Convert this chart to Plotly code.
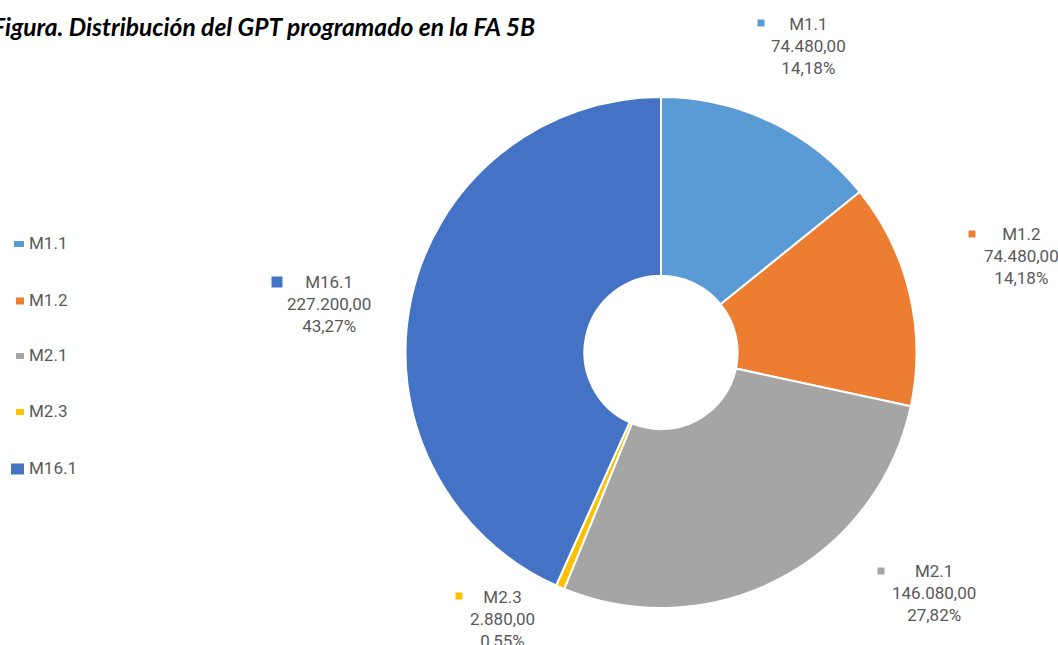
import plotly.graph_objects as go

# Programmed GPT by measure (FA 5B)
labels = ["M1.1", "M1.2", "M2.1", "M2.3", "M16.1"]
values = [74480.00, 74480.00, 146080.00, 2880.00, 227200.00]
colors = ["#5B9BD5", "#ED7D31", "#A5A5A5", "#FFC000", "#4472C4"]

W, H = 1058, 645
title_text = "Figura. Distribución del GPT programado en la FA 5B"

# Layout of the outside data labels (pixel centre of text block, marker centre, marker size)
label_text_pos = [(808, 46), (1021, 256), (934, 593), (502, 619), (329, 304)]
label_marker_pos = [(761, 23), (972, 234), (881, 571), (459, 596), (277, 282)]
label_marker_size = [7, 7, 7, 7, 11]

# Legend layout (pixel)
legend_text_x = 27
legend_rows_y = [243, 300, 355, 411, 468]
legend_marker_w = [10, 8, 8, 8, 13]
legend_marker_h = [6, 7, 6, 6, 11]


def px(x):
    return x / W


def py(y):
    return 1 - y / H


def fmt_num(v):
    s = f"{v:,.2f}"
    return s.replace(",", "X").replace(".", ",").replace("X", ".")


def fmt_pct(p):
    return f"{p:.2f}".replace(".", ",") + "%"


total = sum(values)

fig = go.Figure()
fig.add_trace(go.Pie(
    labels=labels,
    values=values,
    hole=0.30,
    sort=False,
    direction="clockwise",
    rotation=0,
    marker=dict(colors=colors, line=dict(color="white", width=2)),
    textinfo="none",
    showlegend=False,
    domain=dict(x=[px(405), px(917)], y=[py(608), py(97)]),
))

annotations = []
shapes = []

# Data labels: name, value, share
for lab, val, col, (tx, ty), (mx, my), ms in zip(
        labels, values, colors, label_text_pos, label_marker_pos, label_marker_size):
    txt = f"{lab}<br>{fmt_num(val)}<br>{fmt_pct(100 * val / total)}"
    annotations.append(dict(
        x=px(tx), y=py(ty), xref="paper", yref="paper",
        text=txt, showarrow=False, xanchor="center", yanchor="middle",
        align="center",
        font=dict(family="Roboto", size=17, color="#595959"),
    ))
    shapes.append(dict(
        type="rect", xref="paper", yref="paper",
        x0=px(mx - ms / 2), x1=px(mx + ms / 2),
        y0=py(my + ms / 2), y1=py(my - ms / 2),
        fillcolor=col, line=dict(width=0),
    ))

# Legend
for lab, col, ly, mw, mh in zip(labels, colors, legend_rows_y, legend_marker_w, legend_marker_h):
    annotations.append(dict(
        x=px(legend_text_x), y=py(ly), xref="paper", yref="paper",
        text=lab, showarrow=False, xanchor="left", yanchor="middle",
        font=dict(family="Roboto", size=17, color="#595959"),
    ))
    shapes.append(dict(
        type="rect", xref="paper", yref="paper",
        x0=px(legend_text_x - 3 - mw), x1=px(legend_text_x - 3),
        y0=py(ly + mh / 2 + 1), y1=py(ly - mh / 2 + 1),
        fillcolor=col, line=dict(width=0),
    ))

# Title
annotations.append(dict(
    x=px(-10), y=py(27), xref="paper", yref="paper",
    text=f"<b><i>{title_text}</i></b>", showarrow=False,
    xanchor="left", yanchor="middle",
    font=dict(family="Lato", size=24.6, color="#000000"),
))

fig.update_layout(
    width=W, height=H,
    margin=dict(l=0, r=0, t=0, b=0),
    paper_bgcolor="white",
    plot_bgcolor="white",
    annotations=annotations,
    shapes=shapes,
)

fig.write_html("out.html")
